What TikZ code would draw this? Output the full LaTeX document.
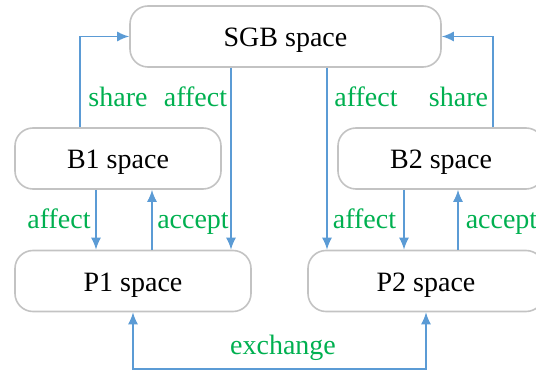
\documentclass[tikz,border=0pt]{standalone}
\usepackage{fontspec}
\setmainfont{Liberation Serif}
\usetikzlibrary{arrows.meta,positioning}
\definecolor{boxgray}{RGB}{195,195,195}
\definecolor{arrblue}{RGB}{91,155,213}
\definecolor{lblgreen}{RGB}{0,176,80}

\begin{document}
\begin{tikzpicture}[x=1pt,y=-1pt,
	spacebox/.style={draw=boxgray,line width=1.6pt,rounded corners=18pt,inner sep=0pt,minimum height=61pt,text height=24pt,text depth=3pt,font=\fontsize{28}{34}\selectfont},
	lbl/.style={text=lblgreen,anchor=base,inner sep=0pt,font=\fontsize{28}{34}\selectfont},
	arr/.style={draw=arrblue,line width=1.6pt,-{Latex[length=12pt,width=10pt]}}]
	\useasboundingbox (0,0) rectangle (536,371);
	\node[spacebox,minimum width=311pt] (sgb) at (285.5,36.5) {SGB space};
	\node[spacebox,minimum width=206pt] (b1) at (118,158.5) {B1 space};
	\node[spacebox,minimum width=206pt] (b2) at (441,158.5) {B2 space};
	\node[spacebox,minimum width=236pt] (p1) at (133,281) {P1 space};
	\node[spacebox,minimum width=236pt] (p2) at (426,281) {P2 space};
	\node[lbl] (shareL) at (118,107) {share};
	\node[lbl] (affectS1) at (195.5,107) {affect};
	\node[lbl] (affectS2) at (366,107) {affect};
	\node[lbl] (shareR) at (458.5,107) {share};
	\node[lbl] (affectB1) at (59,229) {affect};
	\node[lbl] (acceptP1) at (193,229) {accept};
	\node[lbl] (affectB2) at (364.5,229) {affect};
	\node[lbl] (acceptP2) at (501.5,229) {accept};
	\node[lbl] (exchange) at (283,355) {exchange};
	\draw[arr] ([xshift=-38pt]b1.north) |- (sgb.west);
	\draw[arr] ([xshift=52pt]b2.north) |- (sgb.east);
	\draw[arr] ([xshift=-54.5pt]sgb.south) -- ([xshift=-54.5pt]sgb.south |- p1.north);
	\draw[arr] ([xshift=41.5pt]sgb.south) -- ([xshift=41.5pt]sgb.south |- p2.north);
	\draw[arr] ([xshift=-22pt]b1.south) -- ([xshift=-22pt]b1.south |- p1.north);
	\draw[arr] ([xshift=34pt]b1.south |- p1.north) -- ([xshift=34pt]b1.south);
	\draw[arr] ([xshift=-37pt]b2.south) -- ([xshift=-37pt]b2.south |- p2.north);
	\draw[arr] ([xshift=17pt]b2.south |- p2.north) -- ([xshift=17pt]b2.south);
	\draw[arr,{Latex[length=12pt,width=10pt]}-{Latex[length=12pt,width=10pt]}] (p1.south) -- ++(0,57) -| (p2.south);
\end{tikzpicture}
\end{document}
